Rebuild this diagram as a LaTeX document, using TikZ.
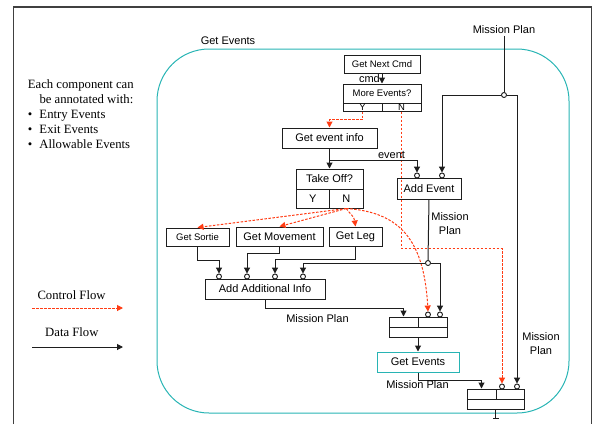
\documentclass[tikz,border=0pt]{standalone}
\usepackage{fontspec}
\setmainfont{Liberation Sans}
\newfontfamily\serifface{Liberation Serif}
\usetikzlibrary{arrows.meta,calc}
\definecolor{frameteal}{RGB}{40,180,180}
\definecolor{ctrlred}{RGB}{255,60,20}
\definecolor{ink}{RGB}{30,30,30}
\begin{document}
\begin{tikzpicture}[x=1pt,y=-1pt,
  box/.style 2 args={draw=ink,line width=1pt,inner sep=0pt,
    minimum width=#1pt,minimum height=#2pt},
  big/.style={font=\fontsize{11}{14}\selectfont},
  small/.style={font=\fontsize{9.5}{11}\selectfont},
  lbl/.style={inner sep=0pt},
  serifnote/.style={font=\serifface\fontsize{12.7}{15.1}\selectfont,inner sep=0pt},
  port/.style={circle,draw=ink,fill=white,line width=0.9pt,inner sep=0pt,minimum size=5pt},
  dflow/.style={draw=ink,line width=1pt,-{Triangle[length=6pt,width=6pt]}},
  cflow/.style={draw=ctrlred,line width=1pt,dash pattern=on 2.5pt off 1.5pt,
    -{Triangle[length=6pt,width=6pt]}},
  plain/.style={draw=ink,line width=1pt}]

\useasboundingbox (0,0) rectangle (594,424);

% page frame and the component outline
\draw[ink!85,line width=1.2pt] (13.5,424) -- (13.5,7) -- (591.5,7) -- (591.5,424);
\draw[frameteal,line width=1pt,rounded corners=52pt] (157,49) rectangle (569,413);
\node[big,lbl,anchor=base] (gelbl) at (228,44) {Get Events};

% annotation note
\node[serifnote,align=left,anchor=north west] (note) at (27.7,79)
  {Each component can\\
   \hspace*{11.6pt}be annotated with:\\
   \makebox[11.6pt][l]{\textbullet}Entry Events\\
   \makebox[11.6pt][l]{\textbullet}Exit Events\\
   \makebox[11.6pt][l]{\textbullet}Allowable Events};

% legend
\node[serifnote,anchor=base west] (cflbl) at (37.3,299) {Control Flow};
\coordinate (cfa) at (32,308);
\coordinate (cfb) at (123,308);
\draw[cflow] (cfa) -- (cfb);
\node[serifnote,anchor=base west] (dflbl) at (45,336.7) {Data Flow};
\coordinate (dfa) at (32,347);
\coordinate (dfb) at (123,347);
\draw[dflow] (dfa) -- (dfb);

% boxes
\node[box={76}{18},small] (nextcmd) at (382,64) {Get Next Cmd};
\node[box={78}{19},small] (moreev) at (382,93.5) {More Events?};
\node[box={39}{8},small] (moreY) at (362.5,107) {Y};
\node[box={39}{8},small] (moreN) at (401.5,107) {N};
\node[box={95}{20},big] (evinfo) at (329.5,138) {Get event info};
\node[box={67}{20},big] (takeoff) at (329.5,179) {Take Off?};
\node[box={33.5}{19},big] (toY) at (312.75,198.5) {Y};
\node[box={33.5}{19},big] (toN) at (346.25,198.5) {N};
\node[box={64}{21},big] (addev) at (429,188.5) {Add Event};
\node[box={63}{18},small] (sortie) at (197.5,237) {Get Sortie};
\node[box={87}{19},big] (movement) at (279.5,236.5) {Get Movement};
\node[box={53}{19},big] (leg) at (355.5,236.5) {Get Leg};
\node[box={120}{20},big] (addinfo) at (265,289) {Add Additional Info};
\node[box={29}{10}] (mA1) at (403.5,322) {};
\node[box={29}{10}] (mA2) at (432.5,322) {};
\node[box={58}{10}] (mA3) at (418,332) {};
\node[box={82}{20},big,draw=frameteal] (getev) at (418,362) {Get Events};
\node[box={29}{10}] (mB1) at (481.5,394) {};
\node[box={28}{10}] (mB2) at (510,394) {};
\node[box={57}{10}] (mB3) at (495.5,404) {};

% input ports and junctions
\node[port] (ae1) at (417,175.5) {};
\node[port] (ae2) at (442,175.5) {};
\node[port] (ai1) at (219,276.5) {};
\node[port] (ai2) at (247,276.5) {};
\node[port] (ai3) at (275,276.5) {};
\node[port] (ai4) at (303,276.5) {};
\node[port] (pA2) at (428,314.5) {};
\node[port] (pA3) at (440,314.5) {};
\node[port] (pB2) at (502,386.5) {};
\node[port] (pB3) at (517,386.5) {};
\node[port] (mpj) at (504,95) {};
\node[port] (j2) at (428,263) {};

% mission plan input
\node[big,anchor=base,inner sep=2.5pt] (mptop) at (504,33) {Mission Plan};
\draw[plain] (mptop.south) -- (mpj.north);
\draw[dflow] (mpj.west) -| (ae2.north);
\draw[dflow] (mpj.east) -| (pB3.north);
\node[big,lbl,align=center,anchor=north] (mpright) at (541,332.1) {Mission\\Plan};

% command loop
\draw[dflow] (nextcmd.south) -- (moreev.north);
\node[big,lbl,anchor=base east] (cmdlbl) at (380,82) {cmd};
\draw[cflow] (moreY.south) -- ++(0,8) -| (evinfo.north);
\draw[cflow] (moreN.south) -- ++(0,137) -| (pB2.north);
\draw[dflow] (evinfo.south) -- (takeoff.north);
\coordinate (j1) at ($(evinfo.south)+(0,12)$);
\draw[dflow] (j1) -| (ae1.north);
\node[big,lbl,anchor=base] (evlbl) at (391.5,158.5) {event};

% take-off branches
\draw[cflow] (toN.south) -- (sortie.north);
\draw[cflow] (toN.south) -- (movement.north);
\draw[cflow] (toN.south) .. controls (350,214) and (354,216) .. (leg.north);
\draw[cflow] (toN.south) .. controls (400,212) and (424,240) .. (pA2.north);

% add event output
\draw[plain] (addev.south) -- (j2.north);
\node[big,lbl,align=center,anchor=north] (mpmid) at (450,212.1) {Mission\\Plan};
\draw[dflow] (j2.west) -| (ai4.north);
\draw[dflow] (j2.east) -| (pA3.north);

% gathered info
\draw[dflow] (sortie.south) -- ++(0,14) -| (ai1.north);
\draw[dflow] (movement.south) -- ++(0,7) -| (ai2.north);
\draw[dflow] (leg.south) -- ++(0,13) -| (ai3.north);
\draw[dflow] (addinfo.south) -- ++(0,9) -| (mA1.north);
\node[big,lbl,anchor=base] (mplow) at (317.5,322) {Mission Plan};

% nested component and final merge
\draw[dflow] (mA3.south) -- (getev.north);
\draw[dflow] (getev.south) -- ++(0,8) -| (mB1.north);
\node[big,lbl,anchor=base] (mpbot) at (417.5,388) {Mission Plan};
\coordinate (outend) at ($(mB3.south)+(0,9)$);
\draw[plain,-{Bar[width=6pt]}] (mB3.south) -- (outend);
\end{tikzpicture}
\end{document}
